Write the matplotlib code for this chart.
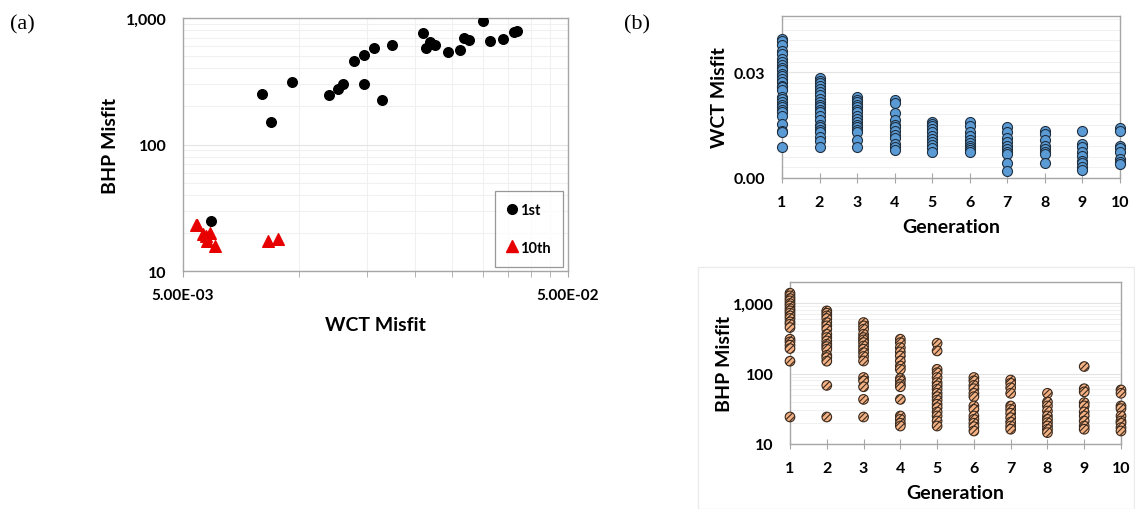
import matplotlib
matplotlib.use("Agg")
import matplotlib.pyplot as plt
import matplotlib.ticker as mticker
from matplotlib.lines import Line2D
from matplotlib.patches import Rectangle
import numpy as np

plt.rcParams['font.family'] = ['Lato', 'DejaVu Sans']
plt.rcParams['font.weight'] = 'bold'
plt.rcParams['axes.labelweight'] = 'bold'
plt.rcParams['hatch.linewidth'] = 0.8

# ---------------- (a) BHP misfit vs WCT misfit ----------------
wct_1st = [0.0080, 0.00845, 0.00962, 0.01194, 0.0126, 0.0130, 0.0139, 0.01473,
           0.01476, 0.01564, 0.0164, 0.0174, 0.0210, 0.0214, 0.0219, 0.0226,
           0.0244, 0.0262, 0.0269, 0.0276, 0.0300, 0.0314, 0.0338, 0.0363,
           0.0369, 0.00592]
bhp_1st = [249, 151, 312, 245, 275, 299, 455, 507, 303, 583, 226, 612, 766, 583,
           642, 616, 542, 559, 696, 667, 947, 654, 682, 771, 785, 24.7]

wct_10th = [0.00539, 0.00545, 0.00565, 0.00573, 0.00577, 0.00587, 0.00607,
            0.00829, 0.00882]
bhp_10th = [23.2, 22.9, 19.7, 18.9, 17.3, 19.9, 15.7, 17.3, 17.8]

legend_labels = ['1st', '10th']

# ---------------- (b) misfit per generation ----------------
generations = list(range(1, 11))

wct_by_gen = [
    [0.0393, 0.0387, 0.0376, 0.0359, 0.0352, 0.0338, 0.0328, 0.0319, 0.0311,
     0.0305, 0.0295, 0.0289, 0.0281, 0.0272, 0.0262, 0.0257, 0.0248, 0.0229,
     0.0224, 0.0215, 0.0207, 0.0201, 0.0194, 0.0186, 0.0177, 0.0153, 0.0134,
     0.0130, 0.0087],
    [0.0283, 0.0276, 0.0270, 0.0262, 0.0253, 0.0243, 0.0236, 0.0224, 0.0215,
     0.0207, 0.0201, 0.0194, 0.0186, 0.0177, 0.0163, 0.0150, 0.0144, 0.0137,
     0.0130, 0.0115, 0.0106, 0.0087],
    [0.0229, 0.0222, 0.0215, 0.0207, 0.0201, 0.0194, 0.0186, 0.0177, 0.0168,
     0.0160, 0.0150, 0.0144, 0.0137, 0.0130, 0.0109, 0.0087],
    [0.0220, 0.0213, 0.0185, 0.0163, 0.0150, 0.0144, 0.0134, 0.0122, 0.0113,
     0.0097, 0.0087, 0.0080],
    [0.0160, 0.0153, 0.0147, 0.0139, 0.0130, 0.0120, 0.0111, 0.0103, 0.0094,
     0.0084, 0.0075],
    [0.0160, 0.0147, 0.0130, 0.0120, 0.0109, 0.0099, 0.0092, 0.0084, 0.0078,
     0.0073],
    [0.0144, 0.0130, 0.0113, 0.0101, 0.0092, 0.0082, 0.0075, 0.0068, 0.0043,
     0.0020],
    [0.0134, 0.0125, 0.0109, 0.0090, 0.0082, 0.0075, 0.0068, 0.0043],
    [0.0132, 0.0097, 0.0087, 0.0073, 0.0062, 0.0049, 0.0043, 0.0030, 0.0024],
    [0.0142, 0.0132, 0.0092, 0.0084, 0.0075, 0.0054, 0.0046, 0.0040],
]

bhp_by_gen = [
    [1387, 1271, 1165, 1079, 989, 916, 840, 778, 721, 661, 606, 543, 503, 451,
     308, 282, 253, 227, 150, 24.2],
    [778, 721, 661, 606, 531, 476, 427, 362, 325, 291, 261, 242, 222, 182, 169,
     150, 68, 24.2],
    [531, 476, 427, 362, 325, 301, 276, 247, 222, 199, 175, 151, 88, 79, 65, 43,
     24.2],
    [308, 276, 234, 203, 178, 151, 128, 115, 85, 79, 70, 65, 43, 25, 22.4, 19.7,
     18],
    [270, 210, 115, 103, 88, 74.5, 67, 60, 52.5, 47, 42, 36.7, 32.9, 28.5, 25,
     21.2, 18],
    [88, 79, 68, 61, 52.5, 47, 34.7, 31.1, 25, 22.4, 19.7, 17.6, 15.3],
    [81, 73, 63, 52.5, 34.7, 31.1, 27.3, 23.7, 20.5, 18, 16.2],
    [52.5, 39.5, 34.7, 29.4, 25, 22.4, 20.1, 18, 16.2, 14.5],
    [126, 61, 55, 38.7, 34.7, 28.5, 25, 21.2, 18, 16.2],
    [58.6, 52.5, 34.7, 31.8, 25, 21.2, 19.7, 17.1, 15.3],
]

W, H = 1135, 510
fig = plt.figure(figsize=(W / 100, H / 100), dpi=100)

SPINE = '#A6A6A6'
GRID_MAJ = '#E3E3E3'
GRID_MIN = '#F0F0F0'


def px_axes(left, top, right, bottom):
    return fig.add_axes([left / W, 1 - bottom / H, (right - left) / W, (bottom - top) / H])


def style_spines(ax):
    for s in ax.spines.values():
        s.set_color(SPINE)
        s.set_linewidth(1.0)


comma_fmt = mticker.FuncFormatter(lambda v, p: f"{int(round(v)):,}")

# ---- panel (a)
axa = px_axes(183, 19, 568, 272)
axa.set_xscale('log')
axa.set_yscale('log')
axa.set_xlim(0.005, 0.05)
axa.set_ylim(10, 1000)
axa.set_axisbelow(True)
axa.scatter(wct_1st, bhp_1st, s=48, marker='o', color='black', zorder=3)
axa.scatter(wct_10th, bhp_10th, s=70, marker='^', color='#E60000',
            edgecolor='#E60000', zorder=3)
axa.xaxis.set_major_locator(mticker.FixedLocator([0.005, 0.05]))
axa.xaxis.set_minor_locator(mticker.FixedLocator(np.arange(0.010, 0.0451, 0.005)))
axa.xaxis.set_major_formatter(mticker.FuncFormatter(lambda v, p: f"{v:.2E}"))
axa.xaxis.set_minor_formatter(mticker.NullFormatter())
axa.yaxis.set_major_locator(mticker.FixedLocator([10, 100, 1000]))
axa.yaxis.set_minor_locator(mticker.LogLocator(base=10, subs=np.arange(2, 10)))
axa.yaxis.set_major_formatter(comma_fmt)
axa.yaxis.set_minor_formatter(mticker.NullFormatter())
axa.grid(True, which='major', axis='y', color=GRID_MAJ, lw=0.8)
axa.grid(True, which='minor', color=GRID_MIN, lw=0.8)
axa.tick_params(axis='x', which='both', direction='out', length=4, color=SPINE,
                labelsize=11, pad=8)
axa.tick_params(axis='y', which='major', length=0, labelsize=11.5, pad=12)
axa.tick_params(axis='y', which='minor', length=0)
style_spines(axa)
axa.set_xlabel('WCT Misfit', fontsize=14, fontweight='bold', labelpad=10)
axa.set_ylabel('BHP Misfit', fontsize=14, fontweight='bold', labelpad=5)

handles = [Line2D([], [], ls='none', marker='o', color='black', markersize=7),
           Line2D([], [], ls='none', marker='^', color='#E60000', markersize=8)]
leg = axa.legend(handles, legend_labels, loc='lower right',
                 bbox_to_anchor=(0.988, 0.016), frameon=True, fancybox=False,
                 handlelength=0.7, handletextpad=0.2, borderpad=0.85,
                 labelspacing=1.6, prop={'weight': 'bold', 'size': 10.5},
                 borderaxespad=0)
leg.get_frame().set_edgecolor('#7F7F7F')
leg.get_frame().set_linewidth(0.9)

# ---- panel (b) top: WCT misfit per generation
axt = px_axes(782, 17, 1120, 179)
for g, vals in zip(generations, wct_by_gen):
    axt.scatter([g] * len(vals), vals, s=52, color='#5B9BD5',
                edgecolor='#1F2F3F', linewidth=0.8, zorder=3, clip_on=False)
axt.set_xlim(1, 10)
axt.set_ylim(0, 0.0459)
axt.set_axisbelow(True)
axt.xaxis.set_major_locator(mticker.FixedLocator(generations))
axt.yaxis.set_major_locator(mticker.FixedLocator([0.0, 0.03]))
axt.yaxis.set_minor_locator(mticker.MultipleLocator(0.003))
axt.yaxis.set_major_formatter(mticker.FormatStrFormatter('%.2f'))
axt.grid(True, which='major', axis='y', color=GRID_MAJ, lw=0.8)
axt.grid(True, which='minor', axis='y', color=GRID_MIN, lw=0.7)
axt.tick_params(axis='x', direction='inout', length=7, color=SPINE,
                labelsize=11.5, pad=9)
axt.tick_params(axis='y', which='both', length=0, labelsize=11.5, pad=12)
style_spines(axt)
axt.set_xlabel('Generation', fontsize=14, fontweight='bold', labelpad=6)
axt.set_ylabel('WCT Misfit', fontsize=14, fontweight='bold', labelpad=4)

# ---- panel (b) bottom: BHP misfit per generation
fig.patches.append(Rectangle((698 / W, 0), (W - 699) / W, (H - 268) / H,
                             transform=fig.transFigure, fill=False,
                             edgecolor='#EBEBEB', linewidth=1.0))
axb = px_axes(790, 283, 1121, 445)
plt.rcParams['hatch.color'] = '#94552F'
for g, vals in zip(generations, bhp_by_gen):
    axb.scatter([g] * len(vals), vals, s=48, color='#F4B183', hatch='//////',
                edgecolor='#3A2A1E', linewidth=0.8, zorder=3, clip_on=False)
axb.set_yscale('log')
axb.set_xlim(1, 10)
axb.set_ylim(10, 2000)
axb.set_axisbelow(True)
axb.xaxis.set_major_locator(mticker.FixedLocator(generations))
axb.yaxis.set_major_locator(mticker.FixedLocator([10, 100, 1000]))
axb.yaxis.set_minor_locator(mticker.LogLocator(base=10, subs=np.arange(2, 10)))
axb.yaxis.set_major_formatter(comma_fmt)
axb.yaxis.set_minor_formatter(mticker.NullFormatter())
axb.grid(True, which='major', axis='y', color=GRID_MAJ, lw=0.8)
axb.grid(True, which='minor', axis='y', color=GRID_MIN, lw=0.7)
axb.tick_params(axis='x', direction='inout', length=7, color=SPINE,
                labelsize=11.5, pad=9)
axb.tick_params(axis='y', which='both', length=0, labelsize=11.5, pad=12)
style_spines(axb)
axb.set_xlabel('Generation', fontsize=14, fontweight='bold', labelpad=6)
axb.set_ylabel('BHP Misfit', fontsize=14, fontweight='bold', labelpad=0)

# panel tags
fig.text(10 / W, 1 - 25 / H, '(a)', fontsize=16, fontweight='normal',
         family=['Liberation Serif'], va='center', ha='left')
fig.text(624 / W, 1 - 25 / H, '(b)', fontsize=16, fontweight='normal',
         family=['Liberation Serif'], va='center', ha='left')

fig.savefig('out.png', dpi=100)
